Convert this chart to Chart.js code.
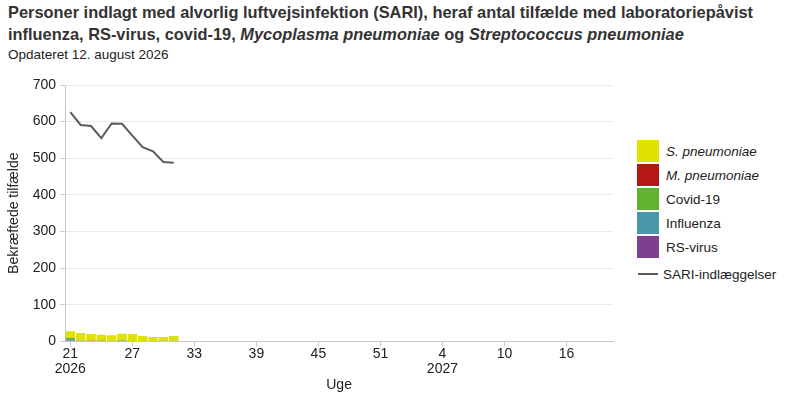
<!DOCTYPE html>
<html>
<head>
<meta charset="utf-8">
<script src="https://cdn.jsdelivr.net/npm/chart.js@4.4.1/dist/chart.umd.min.js"></script>
<style>
  html, body { margin:0; padding:0; background:#fff; }
  body { width:800px; height:400px; position:relative; overflow:hidden; font-family:"Liberation Sans", Arial, sans-serif; color:#222; }
  #title { position:absolute; left:8px; top:1px; font-size:16.4px; font-weight:bold; line-height:22px; color:#333; }
  #subtitle { position:absolute; left:8px; top:47px; font-size:13.5px; color:#222; }
  #wrap { position:absolute; left:0; top:70px; width:630px; height:330px; }
  #legend { position:absolute; left:637px; top:139px; font-size:13.5px; color:#222; }
  .item { height:24px; display:flex; align-items:center; }
  .box { width:22px; height:22px; margin-right:7px; }
  .ln { width:20px; height:2px; margin:0 5px 0 1px; }
</style>
</head>
<body>
<div id="title">Personer indlagt med alvorlig luftvejsinfektion (SARI), heraf antal tilfælde med laboratoriepåvist<br>influenza, RS-virus, covid-19, <i>Mycoplasma pneumoniae</i> og <i>Streptococcus pneumoniae</i></div>
<div id="subtitle">Opdateret 12. august 2026</div>
<div id="wrap"><canvas id="c"></canvas></div>
<div id="legend"></div>
<script>
const weeks = [21,22,23,24,25,26,27,28,29,30,31,32,33,34,35,36,37,38,39,40,41,42,43,44,45,46,47,48,49,50,51,52,53,1,2,3,4,5,6,7,8,9,10,11,12,13,14,15,16,17,18,19,20];
const years = {0:'2026', 36:'2027'};
const sariValues = [626, 591, 588, 555, 595, 594, 562, 530, 519, 490, 488];
const sPneumoniae = [19, 21, 18, 16, 17, 18, 19, 15, 12, 10, 13];
const mPneumoniae = [0, 0, 2, 2, 0, 0, 0, 0, 0, 0, 0];
const covid19 = [3, 0, 0, 0, 0, 2, 0, 0, 0, 2, 2];
const influenza = [4, 2, 0, 0, 0, 1, 0, 0, 0, 0, 0];
const rsVirus = [2, 0, 0, 0, 0, 0, 1, 0, 0, 0, 0];
const yTicks = [0,100,200,300,400,500,600,700];

const bar = (label, data, color, italic) => ({
  type:'bar', label, data, backgroundColor:color, stack:'bars', order:1,
  barPercentage:0.92, categoryPercentage:1, borderWidth:0, italic
});

const datasets = [
  {type:'line', label:'SARI-indlæggelser', data:sariValues, borderColor:'#5c5c5c', borderWidth:2,
   pointRadius:0, tension:0, stack:'line', order:0, fill:false},
  bar('RS-virus', rsVirus, '#7e3f8e'),
  bar('Influenza', influenza, '#4998a9'),
  bar('Covid-19', covid19, '#62b22f'),
  bar('M. pneumoniae', mPneumoniae, '#b51616', true),
  bar('S. pneumoniae', sPneumoniae, '#e2e200', true)
];

const FONT = "'Liberation Sans', Arial, sans-serif";
const chart = new Chart(document.getElementById('c'), {
  data: { labels: weeks, datasets },
  options: {
    responsive:true, maintainAspectRatio:false, animation:false,
    layout:{ padding:{ top:15, right:17, left:2, bottom:6 } },
    plugins:{ legend:{ display:false }, tooltip:{ enabled:false }, title:{display:false} },
    scales:{
      x:{
        stacked:true,
        grid:{ offset:false, drawOnChartArea:false, drawTicks:true, tickLength:5,
               color:(ctx)=> (ctx.index % 6 === 0 ? '#c8c8c8' : 'rgba(0,0,0,0)') },
        border:{ color:'#c8c8c8' },
        ticks:{ autoSkip:false, maxRotation:0, font:{ family:FONT, size:14, lineHeight:1.1 }, color:'#222', padding:0,
          callback:(v,i)=> i % 6 === 0 ? (years[i] ? [String(weeks[i]), years[i]] : String(weeks[i])) : '' },
        title:{ display:true, text:'Uge', font:{ family:FONT, size:14 }, color:'#222', padding:{top:0,bottom:0} }
      },
      y:{
        stacked:true, min:0, max:700,
        afterBuildTicks:(ax)=>{ ax.ticks = yTicks.map(v=>({value:v})); },
        grid:{ color:'#ebebeb', tickLength:5, tickColor:'#c8c8c8' },
        border:{ color:'#c8c8c8' },
        ticks:{ font:{ family:FONT, size:14 }, color:'#222', padding:4 },
        title:{ display:true, text:'Bekræftede tilfælde', font:{ family:FONT, size:14 }, color:'#222', padding:{bottom:6} }
      }
    }
  }
});

// HTML legend built from the chart datasets (bars reversed, then the line)
const leg = document.getElementById('legend');
const ordered = datasets.filter(d=>d.type==='bar').slice().reverse().concat(datasets.filter(d=>d.type==='line'));
ordered.forEach((d,i)=>{
  const it = document.createElement('div'); it.className='item';
  if (d.type==='line') it.style.marginTop='3px';
  const sw = document.createElement('span');
  sw.className = d.type==='bar' ? 'box' : 'ln';
  sw.style.background = d.type==='bar' ? d.backgroundColor : d.borderColor;
  const tx = document.createElement('span'); tx.textContent = d.label;
  if (d.italic) tx.style.fontStyle='italic';
  it.appendChild(sw); it.appendChild(tx); leg.appendChild(it);
});
</script>
</body>
</html>
